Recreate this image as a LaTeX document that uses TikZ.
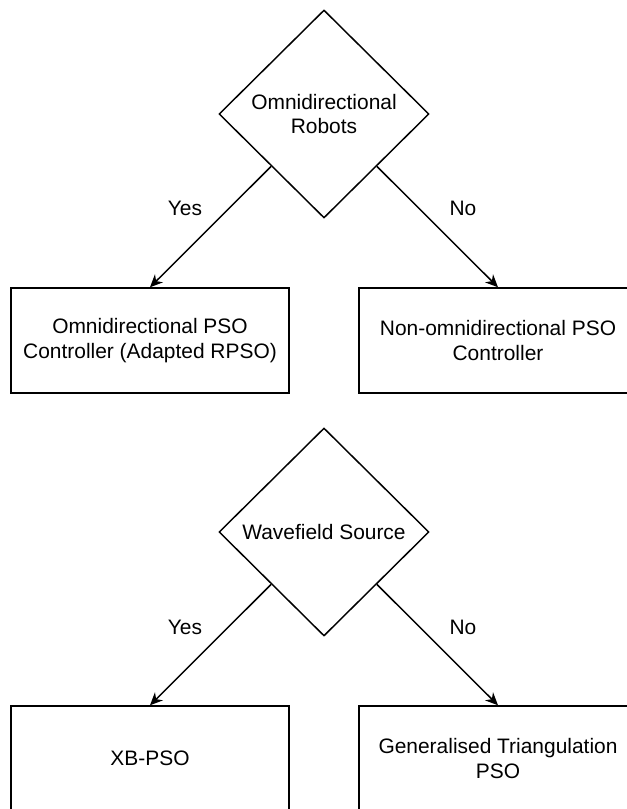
\documentclass[tikz,border=0pt]{standalone}
\usepackage{fontspec}
\setmainfont{Liberation Sans}
\usetikzlibrary{shapes.geometric,arrows.meta}

\tikzset{
    decision/.style={draw, diamond, aspect=1, minimum width=157.5pt, minimum height=156pt, inner sep=0pt, align=center, line width=1.1pt},
    outcome/.style={draw, rectangle, minimum width=208.5pt, minimum height=78.75pt, align=center, line width=1.1pt},
    flow/.style={-{Stealth[length=9.5pt,width=8.5pt,inset=3pt]}, line width=1.1pt},
}

\begin{document}
\begin{tikzpicture}[x=0.75pt, y=-0.75pt, font=\fontsize{15.7}{18.6}\selectfont]
    \path[use as bounding box, clip] (0,0) rectangle (627,809);

    % Robot type decision
    \node[decision] (robots) at (324,114) {Omnidirectional\\Robots};
    \node[outcome] (omni) at (150,340.5) {Omnidirectional PSO\\Controller (Adapted RPSO)};
    \node[outcome] (nonomni) at (498,340.5) {Non-omnidirectional PSO\\Controller};
    \node (yes1) at (185,208) {Yes};
    \node (no1) at (463,208) {No};

    \draw[flow] (robots.south west) -- (omni.north);
    \draw[flow] (robots.south east) -- (nonomni.north);

    % Source decision
    \node[decision] (source) at (324,532) {Wavefield Source};
    \node[outcome] (xbpso) at (150,758.5) {XB-PSO};
    \node[outcome] (gtpso) at (498,758.5) {Generalised Triangulation\\PSO};
    \node (yes2) at (185,627) {Yes};
    \node (no2) at (463,627) {No};

    \draw[flow] (source.south west) -- (xbpso.north);
    \draw[flow] (source.south east) -- (gtpso.north);
\end{tikzpicture}
\end{document}
